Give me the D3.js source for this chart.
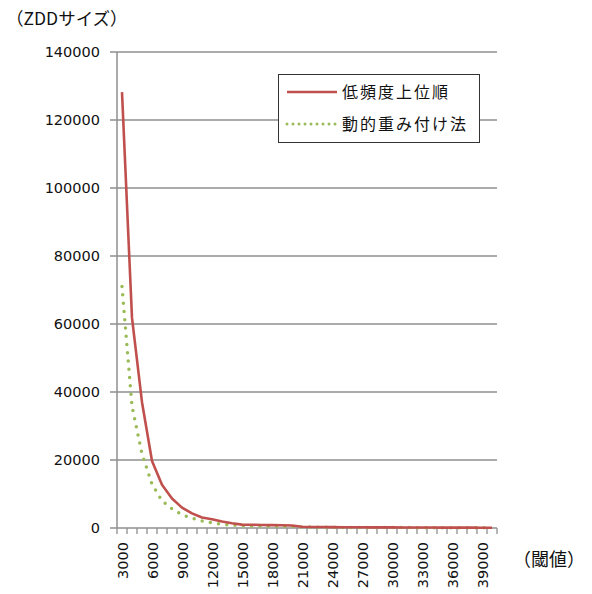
<!DOCTYPE html>
<html>
<head>
<meta charset="utf-8">
<script src="https://cdn.jsdelivr.net/npm/d3@7"></script>
<style>
  body { margin: 0; background: #fff; }
  svg { display: block; }
</style>
</head>
<body>
<svg id="chart" width="592" height="594"></svg>
<script>
const thresholds = [3000, 4000, 5000, 6000, 7000, 8000, 9000, 10000, 11000, 12000,
  13000, 14000, 15000, 16000, 17000, 18000, 19000, 20000, 21000, 22000,
  23000, 24000, 25000, 26000, 27000, 28000, 29000, 30000, 31000, 32000,
  33000, 34000, 35000, 36000, 37000, 38000, 39000, 40000];

// 低頻度上位順
const lowFreq = [128200, 61800, 37000, 19700, 12700, 8700, 6000, 4300, 3100, 2600,
  1900, 1400, 1000, 950, 900, 850, 800, 750, 350, 300,
  280, 250, 230, 210, 200, 190, 180, 170, 160, 150,
  140, 130, 120, 110, 100, 100, 90, 80];

// 動的重み付け法
const dynWeight = [71000, 35800, 21800, 12900, 8000, 5600, 3900, 2900, 2100, 1500,
  1100, 850, 700, 600, 550, 500, 480, 450, 300, 250,
  220, 200, 180, 170, 160, 150, 140, 130, 120, 110,
  100, 95, 90, 85, 80, 75, 70, 60];

const yTicks = [0, 20000, 40000, 60000, 80000, 100000, 120000, 140000];
const xLabels = [3000, 6000, 9000, 12000, 15000, 18000, 21000, 24000, 27000, 30000, 33000, 36000, 39000];

const seriesNames = ['低頻度上位順', '動的重み付け法'];

const svg = d3.select('#chart');
const mLeft = 117, mRight = 497, mTop = 52, mBottom = 528;
const grid = '#8f8f8f';
const numFont = '"DejaVu Sans", Verdana, sans-serif';
const jpFont = '"Noto Sans CJK JP", sans-serif';

const x = d3.scaleBand().domain(thresholds).range([mLeft, mRight]).padding(0);
const y = d3.scaleLinear().domain([0, 140000]).range([mBottom, mTop]);
const cx = d => x(d) + x.bandwidth() / 2;

// gridlines + y ticks
svg.append('g')
  .selectAll('line')
  .data(yTicks)
  .enter()
  .append('line')
  .attr('x1', mLeft - 7)
  .attr('x2', mRight)
  .attr('y1', d => y(d))
  .attr('y2', d => y(d))
  .style('stroke', grid)
  .style('stroke-width', 1.3);

// y labels
svg.append('g')
  .selectAll('text')
  .data(yTicks)
  .enter()
  .append('text')
  .attr('x', 100)
  .attr('y', d => y(d))
  .attr('dy', '0.36em')
  .attr('text-anchor', 'end')
  .style('font-family', numFont)
  .style('font-size', '14.5px')
  .style('fill', '#111')
  .text(d => d);

// y axis line
svg.append('line')
  .attr('x1', mLeft).attr('x2', mLeft)
  .attr('y1', mTop).attr('y2', mBottom)
  .style('stroke', grid)
  .style('stroke-width', 1.5);

// x ticks at category boundaries
const bounds = thresholds.map(d => x(d)).concat([x.range()[1]]);
svg.append('g')
  .selectAll('line')
  .data(bounds)
  .enter()
  .append('line')
  .attr('x1', d => d).attr('x2', d => d)
  .attr('y1', mBottom).attr('y2', mBottom + 6)
  .style('stroke', grid)
  .style('stroke-width', 1.3);

// x labels
svg.append('g')
  .selectAll('text')
  .data(xLabels)
  .enter()
  .append('text')
  .attr('transform', d => `translate(${cx(d) + 1}, ${mBottom + 14}) rotate(-90)`)
  .attr('dy', '0.36em')
  .attr('text-anchor', 'end')
  .style('font-family', numFont)
  .style('font-size', '14.5px')
  .style('fill', '#111')
  .text(d => d);

// lines
const line = d3.line()
  .x((d, i) => cx(thresholds[i]))
  .y(d => y(d));

svg.append('path')
  .datum(dynWeight)
  .attr('d', line)
  .style('fill', 'none')
  .style('stroke', '#9BBB59')
  .style('stroke-width', 3.5)
  .style('stroke-linecap', 'round')
  .style('stroke-dasharray', '0,8.3');

svg.append('path')
  .datum(lowFreq)
  .attr('d', line)
  .style('fill', 'none')
  .style('stroke', '#C0504D')
  .style('stroke-width', 2.6)
  .style('stroke-linejoin', 'round');

// legend
const lg = svg.append('g');
lg.append('rect')
  .attr('x', 278.5).attr('y', 74.5)
  .attr('width', 201).attr('height', 68)
  .style('fill', '#fff')
  .style('stroke', '#333')
  .style('stroke-width', 1);

const legendRows = lg.selectAll('g.row')
  .data(seriesNames)
  .enter()
  .append('g')
  .attr('class', 'row')
  .attr('transform', (d, i) => `translate(287, ${92 + i * 32})`);

legendRows.append('line')
  .attr('x1', 0).attr('x2', 50)
  .attr('y1', 0).attr('y2', 0)
  .style('stroke', (d, i) => i === 0 ? '#C0504D' : '#9BBB59')
  .style('stroke-width', (d, i) => i === 0 ? 2.6 : 3)
  .style('stroke-linecap', (d, i) => i === 0 ? 'butt' : 'round')
  .style('stroke-dasharray', (d, i) => i === 0 ? null : '0,6');

legendRows.append('text')
  .attr('x', 55)
  .attr('y', 0)
  .attr('dy', '0.36em')
  .style('font-family', jpFont)
  .style('font-size', '16px')
  .style('letter-spacing', '2px')
  .style('fill', '#111')
  .text(d => d);

// axis titles
svg.append('text')
  .attr('x', 6).attr('y', 19)
  .attr('dy', '0.36em')
  .style('font-family', jpFont)
  .style('font-size', '17.5px')
  .style('fill', '#111')
  .text('（ZDDサイズ）');

svg.append('text')
  .attr('x', 513).attr('y', 560)
  .attr('dy', '0.36em')
  .style('font-family', jpFont)
  .style('font-size', '18px')
  .style('fill', '#111')
  .text('（閾値）');
</script>
</body>
</html>
